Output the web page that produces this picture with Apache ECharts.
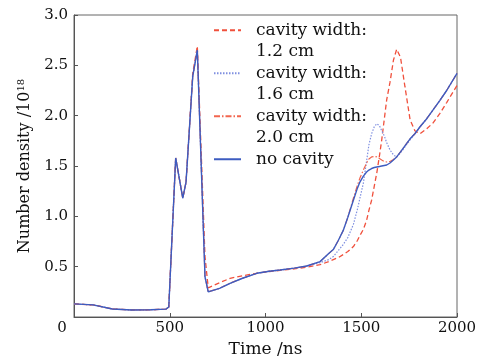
<!DOCTYPE html>
<html>
<head>
<meta charset="utf-8">
<script src="https://cdn.jsdelivr.net/npm/echarts@6/dist/echarts.min.js"></script>
<style>
html, body { margin: 0; padding: 0; background: #fff; }
#chart { width: 487px; height: 364px; }
</style>
</head>
<body>
<div id="chart"></div>
<script>
// time (ns)
var times = [0, 100, 200, 300, 400, 480, 495, 531, 568, 585,
    620, 644, 684, 701, 707, 760, 815, 880, 954, 1020,
    1076, 1150, 1215, 1285, 1330, 1354, 1380, 1406, 1430, 1459,
    1480, 1493, 1511, 1528, 1540, 1554, 1568, 1581, 1595, 1607,
    1620, 1633, 1650, 1668, 1685, 1705, 1728, 1755, 1780, 1807,
    1842, 1876, 1910, 1946, 2000];

// number density /10^18
var width12 = [0.13, 0.12, 0.08, 0.07, 0.072, 0.078, 0.10, 1.58, 1.18, 1.34,
    2.42, 2.69, 0.60, 0.29, 0.285, 0.34, 0.384, 0.41, 0.434, 0.452,
    0.463, 0.478, 0.495, 0.52, 0.55, 0.57, 0.59, 0.62, 0.65, 0.70,
    0.76, 0.81, 0.87, 0.96, 1.06, 1.16, 1.30, 1.43, 1.60, 1.76,
    1.96, 2.16, 2.33, 2.55, 2.66, 2.58, 2.29, 1.96, 1.85, 1.82,
    1.87, 1.93, 2.02, 2.13, 2.30];

var width16 = [0.13, 0.12, 0.08, 0.07, 0.072, 0.078, 0.10, 1.58, 1.18, 1.34,
    2.39, 2.65, 0.40, 0.25, 0.24, 0.285, 0.335, 0.385, 0.434, 0.455,
    0.467, 0.485, 0.505, 0.54, 0.57, 0.60, 0.66, 0.72, 0.79, 0.92,
    1.07, 1.18, 1.33, 1.55, 1.71, 1.82, 1.89, 1.92, 1.90, 1.85,
    1.80, 1.73, 1.66, 1.61, 1.59, 1.63, 1.69, 1.76, 1.82, 1.89,
    1.97, 2.06, 2.15, 2.25, 2.42];

var width20 = [0.13, 0.12, 0.08, 0.07, 0.072, 0.078, 0.10, 1.58, 1.18, 1.34,
    2.39, 2.65, 0.40, 0.25, 0.24, 0.285, 0.335, 0.385, 0.434, 0.455,
    0.467, 0.485, 0.507, 0.55, 0.63, 0.67, 0.76, 0.86, 0.99, 1.18,
    1.31, 1.38, 1.46, 1.53, 1.57, 1.59, 1.595, 1.59, 1.575, 1.56,
    1.545, 1.54, 1.545, 1.565, 1.59, 1.64, 1.70, 1.77, 1.82, 1.89,
    1.97, 2.06, 2.15, 2.25, 2.42];

var noCavity = [0.13, 0.12, 0.08, 0.07, 0.072, 0.078, 0.10, 1.58, 1.18, 1.34,
    2.39, 2.65, 0.40, 0.25, 0.24, 0.285, 0.335, 0.385, 0.434, 0.455,
    0.467, 0.485, 0.507, 0.55, 0.63, 0.67, 0.76, 0.86, 0.99, 1.16,
    1.28, 1.34, 1.40, 1.44, 1.46, 1.475, 1.485, 1.49, 1.495, 1.50,
    1.505, 1.51, 1.53, 1.56, 1.59, 1.64, 1.70, 1.77, 1.82, 1.89,
    1.97, 2.06, 2.15, 2.25, 2.42];

var seriesNames = ['cavity width:\n1.2 cm', 'cavity width:\n1.6 cm', 'cavity width:\n2.0 cm', 'no cavity'];

var FONT = 'DejaVu Serif';

function pairs(vals) {
    var out = [];
    for (var i = 0; i < times.length; i++) {
        out.push([times[i], vals[i]]);
    }
    return out;
}

var myChart = echarts.init(document.getElementById('chart'));

var option = {
    animation: false,
    backgroundColor: '#fff',
    grid: {
        left: 74, right: 30, top: 15, bottom: 47,
        show: true, borderColor: '#666', borderWidth: 1,
        containLabel: false, outerBoundsMode: 'none'
    },
    legend: {
        orient: 'vertical',
        left: 213,
        top: -2,
        padding: 0,
        itemWidth: 27,
        itemHeight: 14,
        itemGap: -21.5,
        itemStyle: {opacity: 0},
        // icon sits on the middle line, so pad each entry to three lines
        formatter: function (name) {
            return name.indexOf('\n') >= 0 ? ' \n' + name : ' \n' + name + '\n ';
        },
        textStyle: {
            fontFamily: FONT, fontSize: 17, color: '#111',
            lineHeight: 21.5, padding: [0, 0, 0, 10]
        },
        data: seriesNames
    },
    xAxis: {
        type: 'value',
        min: 0, max: 2000, interval: 500,
        name: 'Time /ns',
        nameLocation: 'middle',
        nameGap: 22,
        nameTextStyle: {fontFamily: FONT, fontSize: 17, color: '#111'},
        axisLine: {lineStyle: {color: '#555', width: 1}},
        axisTick: {inside: true, length: 4, lineStyle: {color: '#555'}},
        splitLine: {show: false},
        axisLabel: {
            fontFamily: FONT, fontSize: 15, color: '#111', margin: 4,
            formatter: function (v) {
                return v === 0 ? '{o|0}' : String(v);
            },
            rich: {
                o: {fontFamily: FONT, fontSize: 15, color: '#111', padding: [0, 24, 0, 0]}
            }
        }
    },
    yAxis: {
        type: 'value',
        min: 0, max: 3, interval: 0.5,
        name: 'Number density /10{s|18}',
        nameLocation: 'middle',
        nameGap: 39,
        nameTextStyle: {
            fontFamily: FONT, fontSize: 16, color: '#111',
            rich: {s: {fontFamily: FONT, fontSize: 10, color: '#111', verticalAlign: 'top', padding: [0, 0, 8, 0]}}
        },
        axisLine: {lineStyle: {color: '#555', width: 1}},
        axisTick: {inside: true, length: 4, lineStyle: {color: '#555'}},
        splitLine: {show: false},
        axisLabel: {
            fontFamily: FONT, fontSize: 15, color: '#111', margin: 6,
            formatter: function (v) {
                return v === 0 ? '' : v.toFixed(1);
            }
        }
    },
    series: [
        {
            name: seriesNames[0], type: 'line', symbol: 'none',
            data: pairs(width12),
            lineStyle: {color: '#f0503c', width: 1.3, type: [5, 3]},
            itemStyle: {color: '#f0503c'}
        },
        {
            name: seriesNames[1], type: 'line', symbol: 'none',
            data: pairs(width16),
            lineStyle: {color: '#7f8fe0', width: 1.2, type: [1.5, 1.5]},
            itemStyle: {color: '#7f8fe0'}
        },
        {
            name: seriesNames[2], type: 'line', symbol: 'none',
            data: pairs(width20),
            lineStyle: {color: '#f2664f', width: 1.2, type: [6, 2, 1.5, 2]},
            itemStyle: {color: '#f2664f'}
        },
        {
            name: seriesNames[3], type: 'line', symbol: 'none',
            data: pairs(noCavity),
            lineStyle: {color: '#3d5cc0', width: 1.4, type: 'solid'},
            itemStyle: {color: '#3d5cc0'}
        }
    ]
};

myChart.setOption(option);

window.onresize = function () {
    setTimeout(function () {
        myChart.resize();
    }, 50);
};
</script>
</body>
</html>
